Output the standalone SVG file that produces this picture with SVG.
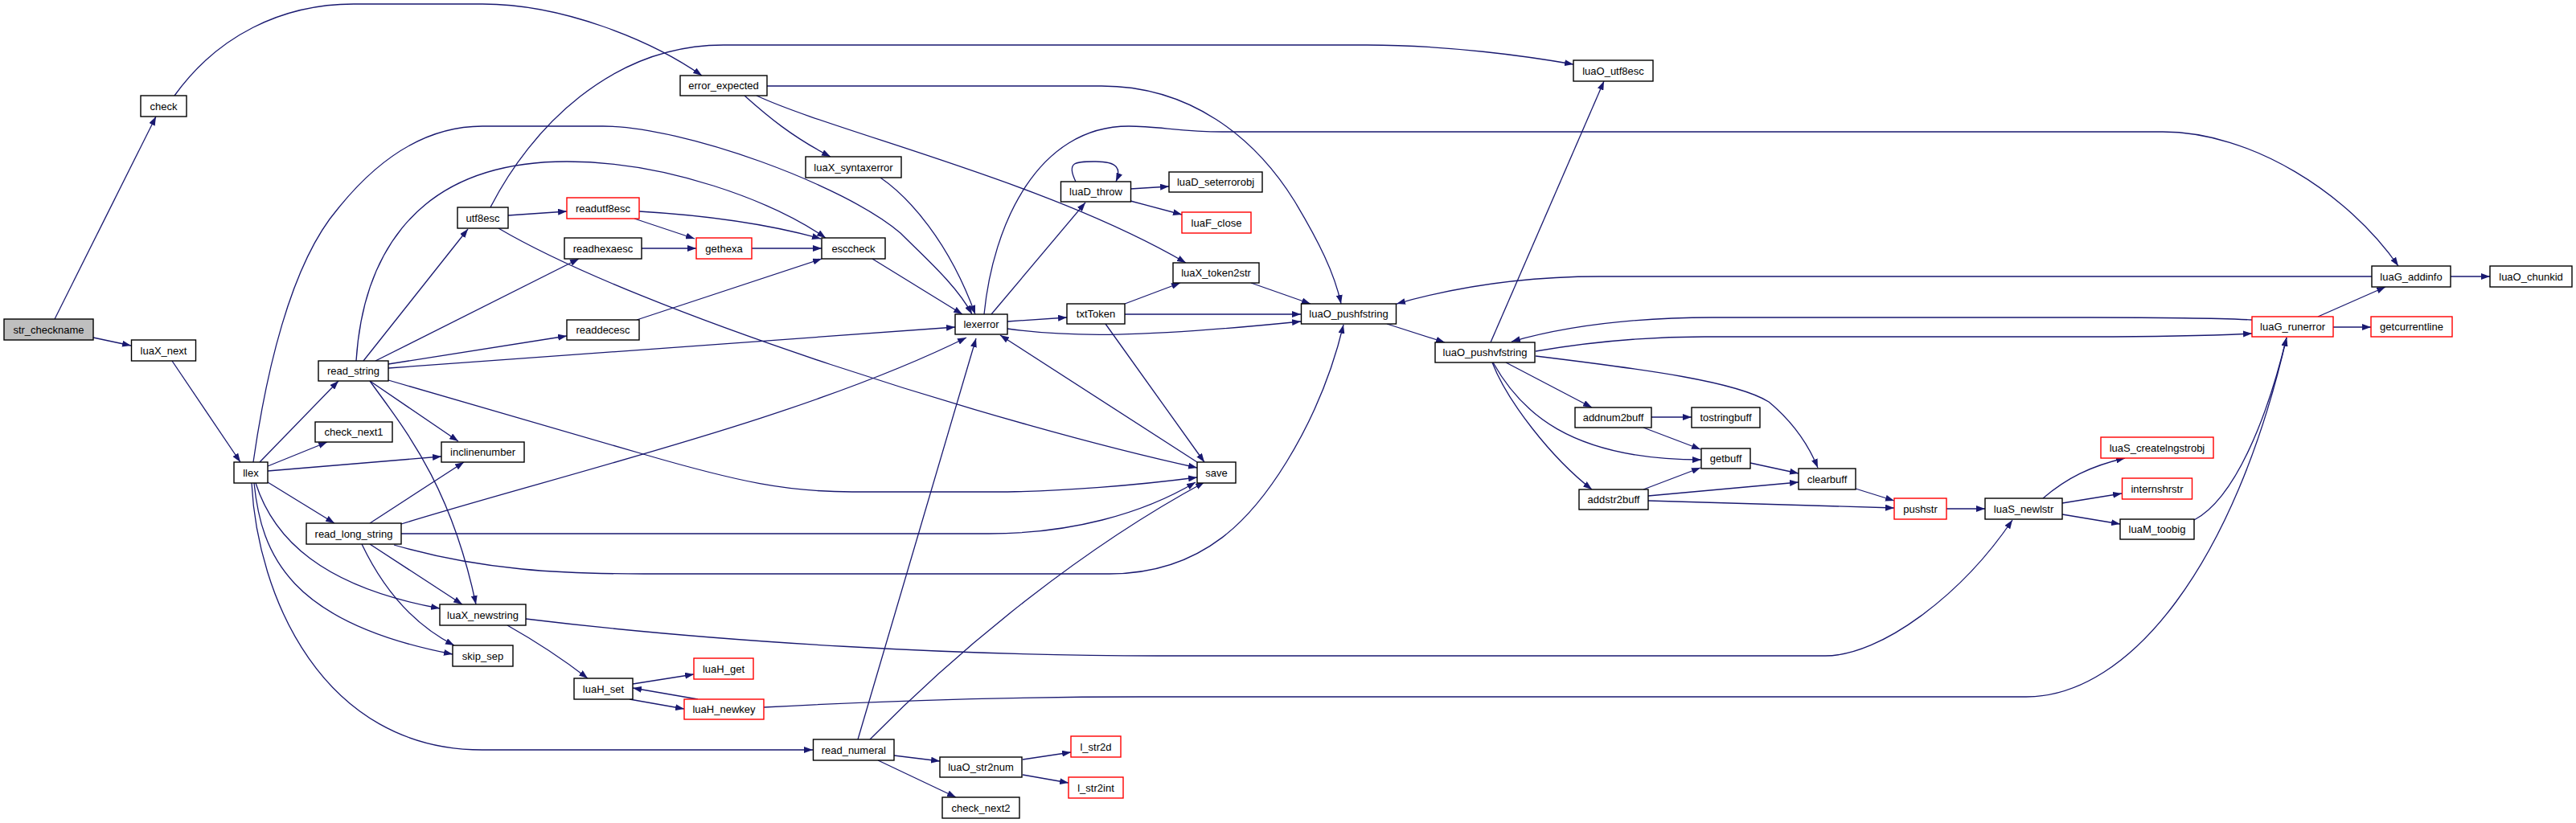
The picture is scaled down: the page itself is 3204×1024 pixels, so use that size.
<svg xmlns="http://www.w3.org/2000/svg" width="3204" height="1024" viewBox="0 0 3204 1024">
<style>
.n rect{fill:#fff;stroke:#000;stroke-width:1.4}
.r rect{stroke:#f00}
.g rect{fill:#bfbfbf}
.n text{font-family:"Liberation Sans",Arial,sans-serif;font-size:13px;text-anchor:middle;fill:#000}
#edges path{fill:none;stroke:#191970;stroke-width:1.3;marker-end:url(#a)}
</style>
<defs>
<marker id="a" markerUnits="userSpaceOnUse" markerWidth="11" markerHeight="8" viewBox="0 0 11 8" refX="11" refY="4" orient="auto">
<path d="M0,0 L11,4 L0,8 z" fill="#191970"/>
</marker>
</defs>
<rect width="3204" height="1024" fill="#fff"/>
<g id="edges">
<path d="M68,397 L194,145"/>
<path d="M116,420 L163,430"/>
<path d="M217,119 C270,45 350,5 440,5 L600,5 C700,5 810,50 873,94"/>
<path d="M214,449 L299,575"/>
<path d="M323,575 L421,474"/>
<path d="M333,580 L407,550"/>
<path d="M333,586 L549,568"/>
<path d="M333,600 L416,651"/>
<path d="M318,601 C340,670 400,730 547,757"/>
<path d="M316,601 C325,690 360,775 563,814"/>
<path d="M313,601 C320,740 400,933 600,933 L1011,933"/>
<path d="M315,575 C330,470 360,330 420,260 C460,210 520,157 600,157 L750,157 C850,157 1050,230 1120,290 C1150,320 1190,355 1209,391"/>
<path d="M452,449 L582,285"/>
<path d="M467,449 L720,322"/>
<path d="M483,453 L705,418"/>
<path d="M483,458 L1188,407"/>
<path d="M443,449 C450,340 500,201 705,201 C830,201 960,250 1027,296"/>
<path d="M460,474 L570,549"/>
<path d="M460,474 C500,530 560,600 592,752"/>
<path d="M483,473 L800,565 C920,600 980,612 1060,612 L1235,612 C1320,612 1420,603 1489,594"/>
<path d="M610,258 C660,160 760,56 900,56 L1700,56 C1800,56 1900,70 1957,80"/>
<path d="M632,268 L705,263"/>
<path d="M620,284 C800,390 1250,530 1489,582"/>
<path d="M789,272 L864,297"/>
<path d="M795,263 C880,268 960,280 1021,297"/>
<path d="M798,309 L866,309"/>
<path d="M935,309 L1022,309"/>
<path d="M792,398 L1022,322"/>
<path d="M1085,322 L1197,391"/>
<path d="M1095,221 C1130,245 1180,300 1213,391"/>
<path d="M926,119 C955,145 985,170 1033,195"/>
<path d="M941,119 C1040,165 1300,225 1475,327"/>
<path d="M954,107 L1370,107 C1480,107 1560,170 1610,250 C1640,300 1660,340 1668,378"/>
<path d="M1253,400 L1327,395"/>
<path d="M1233,391 L1350,252"/>
<path d="M1253,409 C1330,420 1420,420 1618,400"/>
<path d="M1224,391 C1235,280 1290,157 1404,157 C1440,157 1470,164 1520,164 L2690,164 C2800,164 2920,240 2983,331"/>
<path d="M1399,378 L1468,352"/>
<path d="M1399,391 L1618,391"/>
<path d="M1375,403 L1498,575"/>
<path d="M1556,352 L1630,378"/>
<path d="M1338,226 C1325,200 1340,201 1363,201 C1390,201 1395,210 1388,226"/>
<path d="M1406,235 L1454,232"/>
<path d="M1406,250 L1470,267"/>
<path d="M1489,575 L1244,417"/>
<path d="M499,652 C700,590 1000,520 1202,420"/>
<path d="M460,651 L577,575"/>
<path d="M499,664 L1230,664 C1330,664 1420,640 1487,600"/>
<path d="M490,678 C600,710 700,714 801,714 L1380,714 C1500,714 1560,640 1600,575 C1640,510 1660,450 1671,404"/>
<path d="M460,677 L575,752"/>
<path d="M450,677 C480,740 520,780 565,803"/>
<path d="M631,778 C670,800 700,820 731,844"/>
<path d="M654,770 C900,800 1200,816 1440,816 L2270,816 C2340,816 2440,740 2503,647"/>
<path d="M787,851 L863,839"/>
<path d="M783,870 L851,882"/>
<path d="M868,870 L787,856"/>
<path d="M950,880 C1100,872 1250,867 1420,867 L2520,867 C2650,867 2780,700 2844,420"/>
<path d="M1067,920 L1214,421"/>
<path d="M1082,920 C1200,800 1350,680 1498,600"/>
<path d="M1112,940 L1169,947"/>
<path d="M1092,946 L1189,992"/>
<path d="M1272,945 L1332,936"/>
<path d="M1272,964 L1329,974"/>
<path d="M1725,403 L1797,426"/>
<path d="M1854,426 L1995,101"/>
<path d="M1910,437 C1980,425 2050,419 2120,419 L2600,419 C2700,419 2760,417 2801,415"/>
<path d="M2801,398 C2760,396 2700,395 2600,395 L2130,395 C2030,395 1950,405 1880,425"/>
<path d="M1873,451 L1980,507"/>
<path d="M1857,451 C1890,510 1950,572 2116,572"/>
<path d="M1856,451 C1875,500 1930,570 1980,609"/>
<path d="M1910,443 C2050,460 2160,475 2200,500 C2230,525 2250,555 2261,582"/>
<path d="M2054,519 L2104,519"/>
<path d="M2044,532 L2115,559"/>
<path d="M2044,609 L2115,582"/>
<path d="M2050,617 L2237,600"/>
<path d="M2050,623 L2356,632"/>
<path d="M2177,576 L2237,589"/>
<path d="M2308,608 L2356,623"/>
<path d="M2421,633 L2469,633"/>
<path d="M2541,620 C2570,595 2600,580 2643,570"/>
<path d="M2565,626 L2639,614"/>
<path d="M2565,640 L2637,652"/>
<path d="M2729,647 C2780,620 2820,520 2844,420"/>
<path d="M2883,394 L2967,357"/>
<path d="M2902,407 L2949,407"/>
<path d="M2950,344 L1990,344 C1880,344 1800,360 1737,378"/>
<path d="M3048,344 L3097,344"/>
</g>
<g id="n_str_checkname" class="n g"><rect x="5" y="397" width="111" height="26"/><text x="60.5" y="414.5">str_checkname</text></g>
<g id="n_check" class="n"><rect x="175" y="119" width="57" height="26"/><text x="203.5" y="136.5">check</text></g>
<g id="n_luaX_next" class="n"><rect x="163.5" y="423" width="80" height="26"/><text x="203.5" y="440.5">luaX_next</text></g>
<g id="n_llex" class="n"><rect x="291" y="575" width="42" height="26"/><text x="312" y="592.5">llex</text></g>
<g id="n_read_string" class="n"><rect x="396" y="449" width="87" height="25"/><text x="439.5" y="466">read_string</text></g>
<g id="n_check_next1" class="n"><rect x="392" y="525" width="96" height="25"/><text x="440" y="542">check_next1</text></g>
<g id="n_read_long_string" class="n"><rect x="381" y="651" width="118" height="26"/><text x="440" y="668.5">read_long_string</text></g>
<g id="n_utf8esc" class="n"><rect x="569" y="258" width="63" height="26"/><text x="600.5" y="275.5">utf8esc</text></g>
<g id="n_inclinenumber" class="n"><rect x="549" y="550" width="103" height="25"/><text x="600.5" y="567">inclinenumber</text></g>
<g id="n_luaX_newstring" class="n"><rect x="547" y="752" width="107" height="26"/><text x="600.5" y="769.5">luaX_newstring</text></g>
<g id="n_skip_sep" class="n"><rect x="563" y="803" width="75" height="26"/><text x="600.5" y="820.5">skip_sep</text></g>
<g id="n_readutf8esc" class="n r"><rect x="705" y="246" width="90" height="26"/><text x="750" y="263.5">readutf8esc</text></g>
<g id="n_readhexaesc" class="n"><rect x="702" y="296" width="96" height="26"/><text x="750" y="313.5">readhexaesc</text></g>
<g id="n_readdecesc" class="n"><rect x="705" y="398" width="90" height="25"/><text x="750" y="415">readdecesc</text></g>
<g id="n_luaH_set" class="n"><rect x="714" y="844" width="73" height="26"/><text x="750.5" y="861.5">luaH_set</text></g>
<g id="n_error_expected" class="n"><rect x="846" y="94" width="108" height="25"/><text x="900" y="111">error_expected</text></g>
<g id="n_gethexa" class="n r"><rect x="866" y="296" width="69" height="26"/><text x="900.5" y="313.5">gethexa</text></g>
<g id="n_luaH_get" class="n r"><rect x="863" y="819" width="74" height="26"/><text x="900" y="836.5">luaH_get</text></g>
<g id="n_luaH_newkey" class="n r"><rect x="851" y="870" width="99" height="25"/><text x="900.5" y="887">luaH_newkey</text></g>
<g id="n_luaX_syntaxerror" class="n"><rect x="1002" y="195" width="119" height="26"/><text x="1061.5" y="212.5">luaX_syntaxerror</text></g>
<g id="n_esccheck" class="n"><rect x="1022" y="296" width="79" height="26"/><text x="1061.5" y="313.5">esccheck</text></g>
<g id="n_read_numeral" class="n"><rect x="1011.5" y="920" width="100.5" height="26"/><text x="1061.75" y="937.5">read_numeral</text></g>
<g id="n_lexerror" class="n"><rect x="1188" y="391" width="65" height="25"/><text x="1220.5" y="408">lexerror</text></g>
<g id="n_luaO_str2num" class="n"><rect x="1169" y="942" width="102" height="25"/><text x="1220" y="959">luaO_str2num</text></g>
<g id="n_check_next2" class="n"><rect x="1172" y="992" width="96" height="26"/><text x="1220" y="1009.5">check_next2</text></g>
<g id="n_luaD_throw" class="n"><rect x="1319.5" y="226" width="87" height="25"/><text x="1363" y="243">luaD_throw</text></g>
<g id="n_txtToken" class="n"><rect x="1327" y="378" width="72" height="25"/><text x="1363" y="395">txtToken</text></g>
<g id="n_l_str2d" class="n r"><rect x="1332" y="916" width="62" height="26"/><text x="1363" y="933.5">l_str2d</text></g>
<g id="n_l_str2int" class="n r"><rect x="1329" y="967" width="68" height="26"/><text x="1363" y="984.5">l_str2int</text></g>
<g id="n_luaD_seterrorobj" class="n"><rect x="1454" y="214" width="116" height="25"/><text x="1512" y="231">luaD_seterrorobj</text></g>
<g id="n_luaF_close" class="n r"><rect x="1470" y="264" width="86" height="26"/><text x="1513" y="281.5">luaF_close</text></g>
<g id="n_luaX_token2str" class="n"><rect x="1459" y="327" width="107" height="25"/><text x="1512.5" y="344">luaX_token2str</text></g>
<g id="n_save" class="n"><rect x="1489" y="575" width="48" height="26"/><text x="1513" y="592.5">save</text></g>
<g id="n_luaO_pushfstring" class="n"><rect x="1618.5" y="378" width="118" height="25"/><text x="1677.5" y="395">luaO_pushfstring</text></g>
<g id="n_luaO_pushvfstring" class="n"><rect x="1785" y="426" width="124" height="25"/><text x="1847" y="443">luaO_pushvfstring</text></g>
<g id="n_luaO_utf8esc" class="n"><rect x="1957" y="75" width="99" height="26"/><text x="2006.5" y="92.5">luaO_utf8esc</text></g>
<g id="n_addnum2buff" class="n"><rect x="1959" y="507" width="95" height="25"/><text x="2006.5" y="524">addnum2buff</text></g>
<g id="n_addstr2buff" class="n"><rect x="1964" y="609" width="86" height="25"/><text x="2007" y="626">addstr2buff</text></g>
<g id="n_tostringbuff" class="n"><rect x="2104" y="507" width="85" height="25"/><text x="2146.5" y="524">tostringbuff</text></g>
<g id="n_getbuff" class="n"><rect x="2116" y="558" width="61" height="25"/><text x="2146.5" y="575">getbuff</text></g>
<g id="n_clearbuff" class="n"><rect x="2237" y="583" width="71" height="26"/><text x="2272.5" y="600.5">clearbuff</text></g>
<g id="n_pushstr" class="n r"><rect x="2356" y="620" width="65" height="26"/><text x="2388.5" y="637.5">pushstr</text></g>
<g id="n_luaS_newlstr" class="n"><rect x="2469" y="620" width="96" height="26"/><text x="2517" y="637.5">luaS_newlstr</text></g>
<g id="n_luaS_createlngstrobj" class="n r"><rect x="2613" y="544" width="140" height="26"/><text x="2683" y="561.5">luaS_createlngstrobj</text></g>
<g id="n_internshrstr" class="n r"><rect x="2639.5" y="595" width="87" height="26"/><text x="2683" y="612.5">internshrstr</text></g>
<g id="n_luaM_toobig" class="n"><rect x="2637" y="646" width="92" height="25"/><text x="2683" y="663">luaM_toobig</text></g>
<g id="n_luaG_runerror" class="n r"><rect x="2801" y="394" width="101" height="25"/><text x="2851.5" y="411">luaG_runerror</text></g>
<g id="n_luaG_addinfo" class="n"><rect x="2950" y="331" width="98" height="26"/><text x="2999" y="348.5">luaG_addinfo</text></g>
<g id="n_getcurrentline" class="n r"><rect x="2949" y="394" width="101" height="25"/><text x="2999.5" y="411">getcurrentline</text></g>
<g id="n_luaO_chunkid" class="n"><rect x="3097" y="331" width="102" height="26"/><text x="3148" y="348.5">luaO_chunkid</text></g>
</svg>
